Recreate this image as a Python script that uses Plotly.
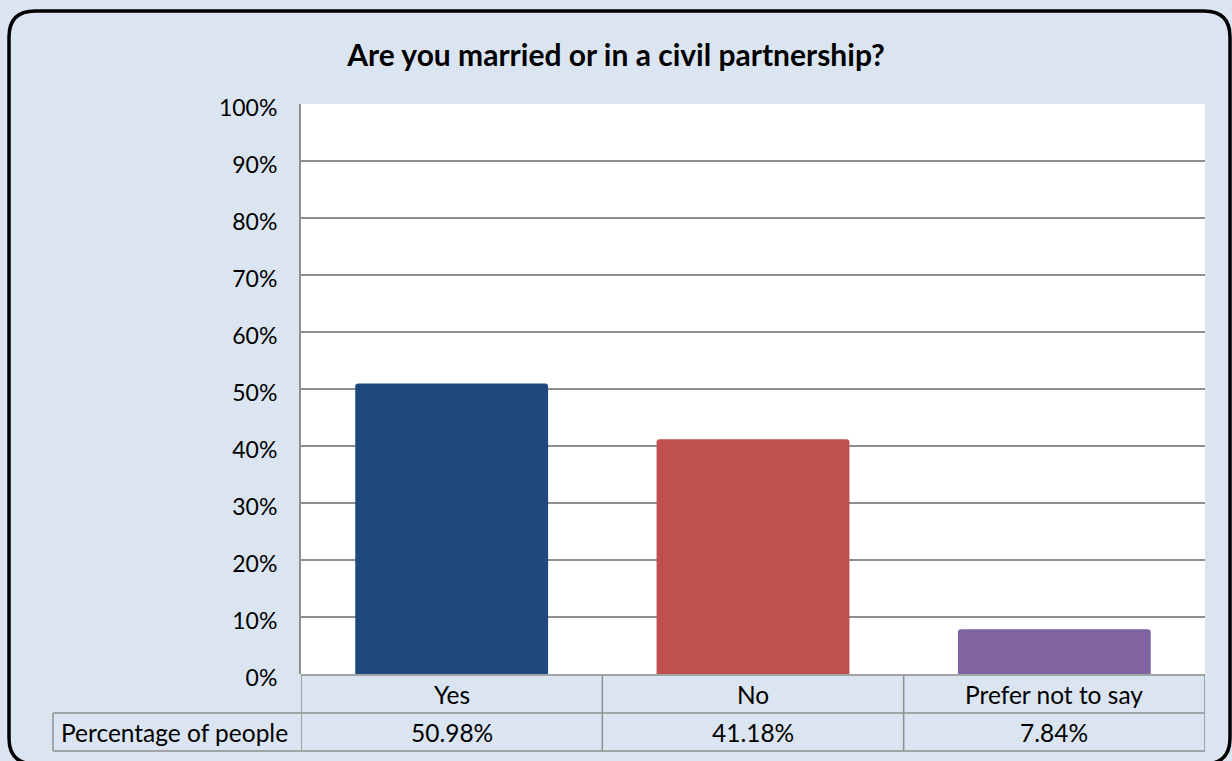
import plotly.graph_objects as go

# ─── DATA ─────────────────────────────────────────────
categories = ["Yes", "No", "Prefer not to say"]
values = [0.5098, 0.4118, 0.0784]
value_labels = ["50.98%", "41.18%", "7.84%"]
row_label = "Percentage of people"
title = "Are you married or in a civil partnership?"

bar_colors = ["#1f497d", "#c0504d", "#8064a2"]

# ─── LAYOUT HELPERS (pixel -> paper) ─────────────────
W, H = 1232, 761
ML, MR, MT, MB = 301, 27, 104, 87
PW, PH = W - ML - MR, H - MT - MB
FONT = "Lato"
GRID = "#8f8f8f"
TABLE_SIZE = 24.5


def px(x):
    return (x - ML) / PW


def py(y):
    return (H - MB - y) / PH


def rounded_rect(x0, y0, x1, y1, r):
    # path in paper coords, corners given in pixels
    pts = [
        f"M {px(x0 + r)},{py(y0)}",
        f"L {px(x1 - r)},{py(y0)}",
        f"Q {px(x1)},{py(y0)} {px(x1)},{py(y0 + r)}",
        f"L {px(x1)},{py(y1 - r)}",
        f"Q {px(x1)},{py(y1)} {px(x1 - r)},{py(y1)}",
        f"L {px(x0 + r)},{py(y1)}",
        f"Q {px(x0)},{py(y1)} {px(x0)},{py(y1 - r)}",
        f"L {px(x0)},{py(y0 + r)}",
        f"Q {px(x0)},{py(y0)} {px(x0 + r)},{py(y0)}",
        "Z",
    ]
    return " ".join(pts)


fig = go.Figure(go.Bar(
    x=categories,
    y=values,
    marker=dict(color=bar_colors, line=dict(width=0), cornerradius=3),
    hoverinfo="skip",
))

# ─── DATA TABLE UNDER THE AXIS ───────────────────────
row1_top, row1_bot, row2_bot = 675, 713, 751
table_left = 53
line = dict(color=GRID, width=1.5)
shapes = []

# vertical borders between categories
n = len(categories)
for i in range(n + 1):
    shapes.append(dict(type="line", xref="x", yref="paper",
                       x0=i - 0.5, x1=i - 0.5, y0=py(row1_top), y1=py(row2_bot), line=line))
# horizontal borders
shapes.append(dict(type="line", xref="x", yref="paper", x0=-0.5, x1=n - 0.5,
                   y0=py(row1_top), y1=py(row1_top), line=line))
for yy in (row1_bot, row2_bot):
    shapes.append(dict(type="line", xref="paper", yref="paper", x0=px(table_left), x1=1,
                       y0=py(yy), y1=py(yy), line=line))
shapes.append(dict(type="line", xref="paper", yref="paper", x0=px(table_left), x1=px(table_left),
                   y0=py(row1_bot), y1=py(row2_bot), line=line))

# outer rounded frame (bottom edge sits just past the window)
shapes.append(dict(type="path", xref="paper", yref="paper", layer="above",
                   path=rounded_rect(9, 11, 1230, 764, 26),
                   line=dict(color="black", width=3.5)))

annotations = []
for cat, lab in zip(categories, value_labels):
    annotations.append(dict(x=cat, y=py((row1_top + row1_bot) / 2), xref="x", yref="paper",
                            text=cat, showarrow=False, yanchor="middle",
                            font=dict(family=FONT, size=TABLE_SIZE, color="black")))
    annotations.append(dict(x=cat, y=py((row1_bot + row2_bot) / 2), xref="x", yref="paper",
                            text=lab, showarrow=False, yanchor="middle",
                            font=dict(family=FONT, size=TABLE_SIZE, color="black")))
annotations.append(dict(x=px(table_left + 6), y=py((row1_bot + row2_bot) / 2), xref="paper", yref="paper",
                        text=row_label, showarrow=False, xanchor="left", yanchor="middle",
                        font=dict(family=FONT, size=TABLE_SIZE, color="black")))

fig.update_layout(
    width=W, height=H,
    margin=dict(l=ML, r=MR, t=MT, b=MB),
    paper_bgcolor="#dbe5f1",
    plot_bgcolor="white",
    font=dict(family=FONT, size=23, color="black"),
    title=dict(text=f"<b>{title}</b>", x=0.5, xref="container", xanchor="center",
               y=1 - 55 / H, yref="container", yanchor="middle",
               font=dict(family=FONT, size=30, color="black")),
    bargap=0.36,
    showlegend=False,
    shapes=shapes,
    annotations=annotations,
)
fig.update_xaxes(range=[-0.5, n - 0.5], showticklabels=False, showgrid=False,
                 showline=False, zeroline=False, fixedrange=True)
fig.update_yaxes(range=[0, 1], dtick=0.1, tickformat=".0%", ticks="",
                 ticklabelstandoff=17, ticklabelshift=4,
                 showgrid=True, gridcolor=GRID, gridwidth=1.5,
                 showline=True, linecolor=GRID, linewidth=2, zeroline=False,
                 tickfont=dict(family=FONT, size=23, color="black"), fixedrange=True)

# page body has an 8px default margin; drop it so the chart fills the window
fig.write_html("out.html", config={"displayModeBar": False},
               post_script="document.body.style.margin='0';")
